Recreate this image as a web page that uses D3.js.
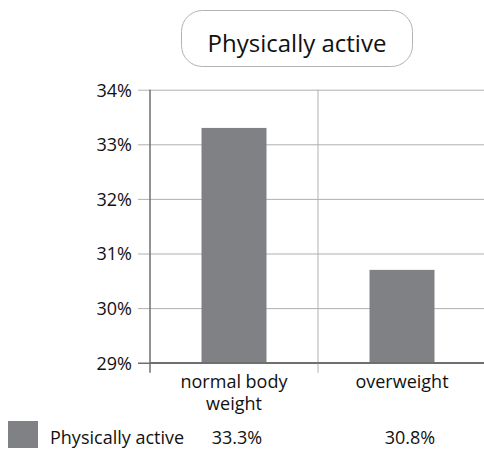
<!DOCTYPE html>
<html>
<head>
<meta charset="utf-8">
<script src="https://cdn.jsdelivr.net/npm/d3@7"></script>
<style>
  body { margin: 0; background: #fff; }
  svg text { font-family: 'Open Sans', sans-serif; fill: #111; }
</style>
</head>
<body>
<svg id="chart" width="484" height="450"></svg>
<script>
const title = 'Physically active'
const categories = ['normal body weight', 'overweight']
const categoryLines = [['normal body', 'weight'], ['overweight']]
const seriesName = 'Physically active'
const values = [33.3, 30.7]
const tableLabels = ['33.3%', '30.8%']
const yTicks = [29, 30, 31, 32, 33, 34]

const svg = d3.select('#chart')
const plotLeft = 150
const plotRight = 486
const plotTop = 89.7
const plotBottom = 362.7
const barW = 65
const barColor = '#808184'

const x = d3.scaleBand().domain(categories).range([plotLeft, plotRight])
const y = d3.scaleLinear().domain([29, 34]).range([plotBottom, plotTop])

// title box
svg.append('rect')
  .attr('x', 181.5).attr('y', 10.5)
  .attr('width', 231).attr('height', 56)
  .attr('rx', 21).attr('ry', 21)
  .attr('fill', '#fff')
  .attr('stroke', '#b3b3b3')
  .attr('stroke-width', 1)
svg.append('text')
  .attr('x', 297).attr('y', 52)
  .attr('text-anchor', 'middle')
  .style('font-size', '24px')
  .text(title)

// horizontal gridlines + y labels
const yAxis = d3.axisLeft(y)
  .tickValues(yTicks)
  .tickSize(-(plotRight - plotLeft))
  .tickPadding(18)
  .tickFormat(d => d + '%')
const yAxisG = svg.append('g')
  .attr('transform', `translate(${plotLeft},0)`)
  .call(yAxis)
yAxisG.select('.domain').remove()
yAxisG.selectAll('.tick line')
  .attr('x1', -12)
  .attr('stroke', d => d === 29 ? '#6f6f6f' : '#b0b0b0')
  .attr('stroke-width', d => d === 29 ? 1.5 : 1)
yAxisG.selectAll('.tick text')
  .style('font-size', '18px')
  .attr('dy', '0.36em')
  .attr('x', -18)

// vertical separators between categories
svg.append('g').selectAll('line')
  .data(categories.slice(1))
  .enter().append('line')
  .attr('x1', d => x(d)).attr('x2', d => x(d))
  .attr('y1', plotTop).attr('y2', plotBottom + 10)
  .attr('stroke', '#b0b0b0')

// bars
svg.append('g').selectAll('rect')
  .data(values)
  .enter().append('rect')
  .attr('x', (d, i) => x(categories[i]) + (x.bandwidth() - barW) / 2)
  .attr('y', d => y(d))
  .attr('width', barW)
  .attr('height', d => plotBottom - y(d))
  .attr('fill', barColor)

// baseline and y axis line
svg.append('line')
  .attr('x1', plotLeft).attr('x2', plotRight)
  .attr('y1', plotBottom).attr('y2', plotBottom)
  .attr('stroke', '#6f6f6f').attr('stroke-width', 1.5)
svg.append('line')
  .attr('x1', plotLeft).attr('x2', plotLeft)
  .attr('y1', plotTop).attr('y2', plotBottom + 10)
  .attr('stroke', '#6f6f6f').attr('stroke-width', 1.5)

// category labels
const labelG = svg.append('g')
categoryLines.forEach((lines, i) => {
  const cx = x(categories[i]) + x.bandwidth() / 2
  const t = labelG.append('text')
    .attr('x', cx)
    .attr('y', 388)
    .attr('text-anchor', 'middle')
    .style('font-size', '18px')
  lines.forEach((ln, j) => {
    t.append('tspan')
      .attr('x', cx)
      .attr('dy', j === 0 ? 0 : 22)
      .text(ln)
  })
})

// legend / data table row
svg.append('rect')
  .attr('x', 8).attr('y', 421)
  .attr('width', 30).attr('height', 27)
  .attr('fill', barColor)
svg.append('text')
  .attr('x', 50).attr('y', 444)
  .style('font-size', '18px')
  .text(seriesName)
svg.append('g').selectAll('text')
  .data(tableLabels)
  .enter().append('text')
  .attr('x', (d, i) => x(categories[i]) + x.bandwidth() / 2 + (i === 0 ? 3 : 8))
  .attr('y', 444)
  .attr('text-anchor', 'middle')
  .style('font-size', '18px')
  .text(d => d)
</script>
</body>
</html>
